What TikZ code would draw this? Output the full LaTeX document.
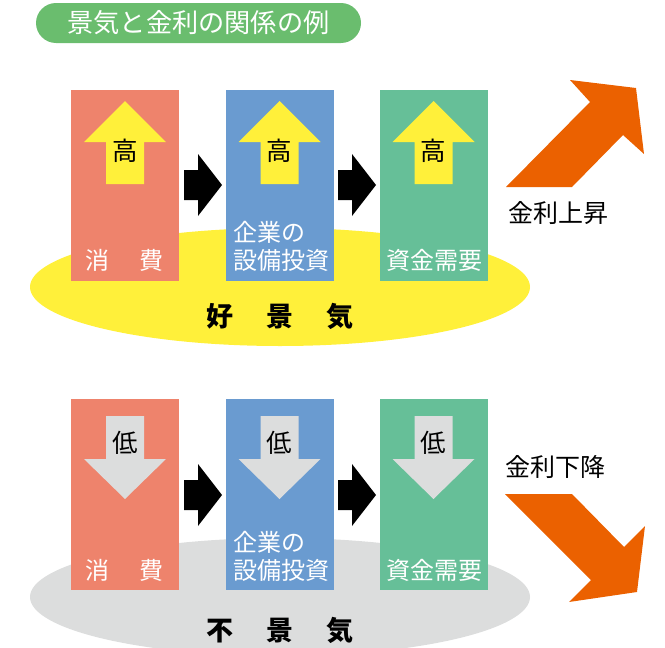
\documentclass[tikz,border=0pt]{standalone}
\usepackage{fontspec}
\setmainfont{Noto Sans CJK JP}
\usetikzlibrary{shapes.geometric}
\definecolor{titlegreen}{HTML}{6ABD6E}
\definecolor{salmon}{HTML}{EE836C}
\definecolor{boxblue}{HTML}{6A9BD0}
\definecolor{boxgreen}{HTML}{66BF98}
\definecolor{yel}{HTML}{FFF03A}
\definecolor{lgray}{HTML}{DCDDDD}
\definecolor{orng}{HTML}{EB6100}
\tikzset{
  box/.style={minimum width=108pt,minimum height=191pt,inner sep=0pt,outer sep=0pt,draw=none},
  lbl/.style={text=white,font=\fontsize{24}{28}\selectfont,inner sep=0pt,align=left,anchor=west},
  arrtext/.style={font=\fontsize{25.5}{27}\selectfont,inner sep=0pt},
  side/.style={font=\fontsize{25}{27}\selectfont,inner sep=0pt},
  mood/.style={font=\bfseries\fontsize{27}{30}\selectfont,inner sep=0pt},
  blk/.style={fill=black},
  ora/.style={fill=orng}
}
\begin{document}
\begin{tikzpicture}[x=1pt,y=-1pt]
\useasboundingbox (0,0) rectangle (665,648);
\clip (0,0) rectangle (665,648);
% title
\node[fill=titlegreen,rounded corners=20pt,minimum width=325pt,minimum height=40pt,inner sep=0pt] (title) at (198.5,23) {};
\node[text=white,font=\fontsize{26.2}{28}\selectfont,inner sep=0pt] (titletext) at (title.center) {景気と金利の関係の例};
% ellipses
\node[ellipse,fill=yel,minimum width=500pt,minimum height=118pt,inner sep=0pt] (good) at (280,287) {};
\node[ellipse,fill=lgray,minimum width=500pt,minimum height=118pt,inner sep=0pt] (bad) at (280,597) {};
% top row boxes
\node[box,fill=salmon] (c1) at (125,185.5) {};
\node[box,fill=boxblue] (i1) at (279.5,185.5) {};
\node[box,fill=boxgreen] (d1) at (433.5,185.5) {};
% bottom row boxes
\node[box,fill=salmon] (c2) at (125,494.5) {};
\node[box,fill=boxblue] (i2) at (279.5,494.5) {};
\node[box,fill=boxgreen] (d2) at (433.5,494.5) {};
% up arrows (yellow)
\foreach \cx in {125,279.5,433.5}{
  \fill[yel] (\cx,101) -- (\cx+41,142) -- (\cx+19,142) -- (\cx+19,184) -- (\cx-19,184) -- (\cx-19,142) -- (\cx-41,142) -- cycle;
}
% down arrows (gray)
\foreach \cx in {125,279.5,433.5}{
  \fill[lgray] (\cx-19,416) -- (\cx+19,416) -- (\cx+19,459) -- (\cx+41,459) -- (\cx,499) -- (\cx-41,459) -- (\cx-19,459) -- cycle;
}
\node[arrtext] (h1) at (125,151) {高};
\node[arrtext] (h2) at (279.5,151) {高};
\node[arrtext] (h3) at (433.5,151) {高};
\node[arrtext] (l1) at (125,443) {低};
\node[arrtext] (l2) at (279.5,443) {低};
\node[arrtext] (l3) at (433.5,443) {低};
% black arrows
\foreach \dy in {0,310}{
  \foreach \x in {184,338}{
    \fill[blk] (\x,170+\dy) -- (\x+14,170+\dy) -- (\x+14,154+\dy) -- (\x+38,185+\dy) -- (\x+14,216+\dy) -- (\x+14,200+\dy) -- (\x,200+\dy) -- cycle;
  }
}
% labels
\node[lbl] (lc1) at (85,260) {消\hspace{30pt}費};
\node[lbl] (li1) at (233,246) {企業の\\設備投資};
\node[lbl] (ld1) at (386,260) {資金需要};
\node[lbl] (lc2) at (85,570) {消\hspace{30pt}費};
\node[lbl] (li2) at (233,556) {企業の\\設備投資};
\node[lbl] (ld2) at (386,570) {資金需要};
% mood texts
\node[mood] (goodtext) at (280,316) {好\hspace{33pt}景\hspace{33pt}気};
\node[mood] (badtext) at (280,630) {不\hspace{33pt}景\hspace{33pt}気};
% orange arrows
\fill[ora] (506,187) -- (572,187) -- (623,135) -- (644,154) -- (636,88) -- (570,80) -- (590,102) -- cycle;
\fill[ora] (505,494) -- (572,494) -- (624,547) -- (645,526) -- (637,592) -- (569,602) -- (591,580) -- cycle;
\node[side] (up) at (558,213) {金利上昇};
\node[side] (down) at (555,467) {金利下降};
\end{tikzpicture}
\end{document}
